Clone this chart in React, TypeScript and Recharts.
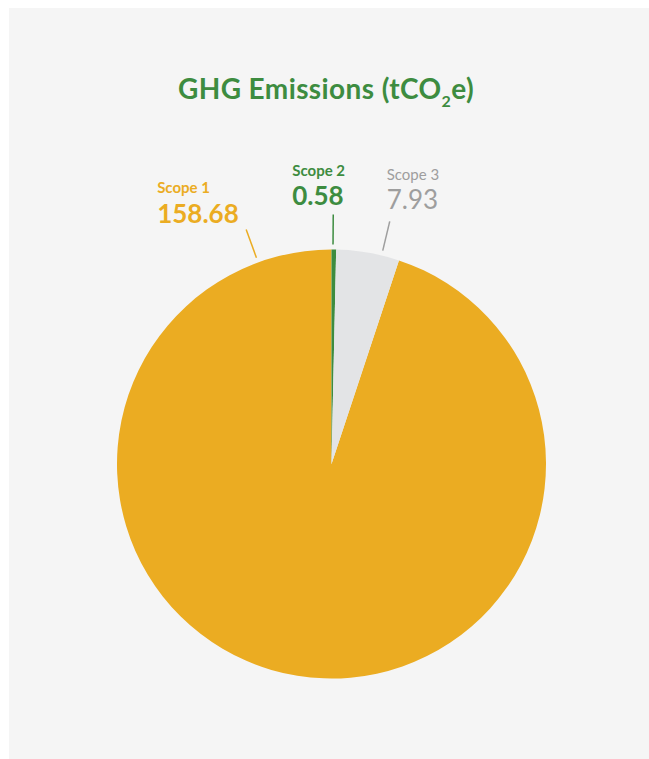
import React from 'react'
import { PieChart, Pie, Cell } from 'recharts'

const scopeNames = ['Scope 1', 'Scope 2', 'Scope 3']
const scopeValues = [158.68, 0.58, 7.93]
const sliceColors = ['#EBAC22', '#3D8C40', '#E3E4E6']
const labelColors = ['#EBAC22', '#3D8C40', '#9E9E9E']

// label placement (angle of the connector, text offsets from its outer end)
const labelAngles = [110, 89.6, 76.5]
const labelOffsets = [
  { dx: -89, nameDy: -37, valueDy: -7 },
  { dx: -41, nameDy: -39, valueDy: -9.5 },
  { dx: -3, nameDy: -41, valueDy: -12 },
]
const labelWeights = [700, 700, 400]

const data = scopeNames.map((name, i) => ({ name, value: scopeValues[i] }))
const total = scopeValues.reduce((a, b) => a + b, 0)
// Scope 1 ends at 12 o'clock so Scope 2 and 3 sit just right of the top
const startAngle = 90 + (360 * scopeValues[0]) / total

const RAD = Math.PI / 180

const renderLabel = (props: any) => {
  const { cx, cy, outerRadius, index } = props
  const a = labelAngles[index] * RAD
  const sx = cx + (outerRadius + 5) * Math.cos(a)
  const sy = cy - (outerRadius + 5) * Math.sin(a)
  const ex = cx + (outerRadius + 35) * Math.cos(a)
  const ey = cy - (outerRadius + 35) * Math.sin(a)
  const off = labelOffsets[index]
  const color = labelColors[index]
  return (
    <g key={`label-${index}`}>
      <line x1={sx} y1={sy} x2={ex} y2={ey} stroke={color} strokeWidth={1.5} />
      <text x={ex + off.dx} y={ey + off.nameDy} fill={color} fontSize={15} fontWeight={labelWeights[index]} fontFamily="Lato" textAnchor="start">
        {scopeNames[index]}
      </text>
      <text x={ex + off.dx} y={ey + off.valueDy} fill={color} fontSize={26} fontWeight={labelWeights[index]} fontFamily="Lato" textAnchor="start">
        {scopeValues[index].toFixed(2)}
      </text>
    </g>
  )
}

export default function App() {
  return (
    <div style={{ position: 'absolute', left: 9, top: 8, width: 640, height: 751, background: '#F5F5F5', fontFamily: 'Lato' }}>
      <div style={{ position: 'absolute', left: 0, top: 65, width: 634, textAlign: 'center', fontSize: 28, lineHeight: '30px', fontWeight: 700, letterSpacing: 0.4, color: '#3D8C40' }}>
        GHG Emissions (tCO<span style={{ fontSize: 16, position: 'relative', top: 8 }}>2</span>e)
      </div>
      <PieChart width={640} height={751} margin={{ top: 0, right: 0, bottom: 0, left: 0 }}>
        <Pie
          data={data}
          dataKey="value"
          nameKey="name"
          cx={322.5}
          cy={456}
          outerRadius={214.5}
          startAngle={startAngle}
          endAngle={startAngle - 360}
          stroke="none"
          labelLine={false}
          label={renderLabel}
          isAnimationActive={false}
        >
          {data.map((entry, index) => (
            <Cell key={`cell-${index}`} fill={sliceColors[index]} />
          ))}
        </Pie>
      </PieChart>
    </div>
  )
}
